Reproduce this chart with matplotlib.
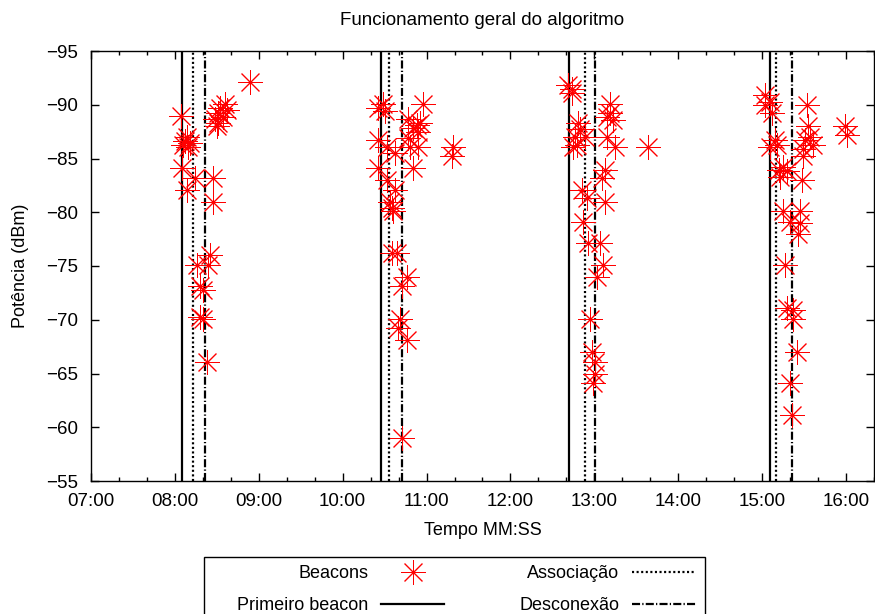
import matplotlib
matplotlib.use("Agg")
import matplotlib.pyplot as plt
from matplotlib.ticker import MultipleLocator, FuncFormatter
from matplotlib.lines import Line2D
from matplotlib.patches import Rectangle

plt.rcParams['font.family'] = ['Liberation Sans', 'DejaVu Sans']
plt.rcParams['lines.scale_dashes'] = False

# Beacon times (seconds, MM*60+SS) and received power (dBm)
beacon_time = [
    # cluster 1
    533.7, 515.9, 512.3, 517.0, 511.0, 514.6, 508.7, 511.0, 510.0, 484.4,
    488.4, 487.2, 490.8, 489.6, 486.0, 484.9, 494.4, 507.5, 488.4, 507.5,
    505.1, 495.6, 503.9, 498.0, 500.3, 500.3, 498.0, 502.8,
    # cluster 2
    657.7, 629.1, 630.3, 625.5, 647.0, 653.0, 655.3, 650.5, 654.1, 631.5,
    625.5, 647.0, 654.1, 648.2, 637.5, 679.2, 678.0, 625.5, 650.5, 631.5,
    637.5, 633.9, 635.1, 636.2, 638.7, 635.1, 645.8, 642.2, 641.0, 639.8,
    645.8, 642.2,
    # cluster 3
    763.8, 761.4, 763.8, 791.3, 791.3, 793.6, 788.9, 768.6, 769.8, 773.4,
    766.2, 767.4, 765.0, 788.9, 794.8, 818.7, 787.7, 785.3, 771.0, 774.5,
    787.7, 772.2, 775.7, 784.1, 786.5, 781.7, 777.0, 778.1, 780.5, 780.5,
    779.3,
    # cluster 4
    902.1, 905.7, 902.1, 906.9, 932.0, 959.3, 960.5, 933.1, 934.3, 930.7,
    936.7, 929.5, 929.5, 909.3, 910.5, 905.7, 915.2, 911.7, 917.6, 912.9,
    928.3, 915.2, 927.2, 920.0, 927.2, 926.0, 916.4, 917.6, 922.4, 922.4,
    924.8, 920.0, 921.2,
]
beacon_power = [
    # cluster 1
    -92.1, -90.1, -89.7, -89.5, -89.2, -88.9, -88.7, -88.3, -88.0, -89.0,
    -87.0, -86.6, -86.4, -86.1, -86.3, -84.1, -83.2, -83.2, -82.1, -81.0,
    -76.0, -75.1, -75.1, -73.1, -72.8, -70.1, -70.3, -66.1,
    # cluster 2
    -90.1, -90.1, -89.4, -89.7, -88.7, -88.1, -88.3, -87.8, -87.5, -86.1,
    -86.7, -86.9, -86.1, -86.1, -85.5, -86.1, -85.2, -84.1, -84.1, -83.0,
    -82.1, -81.0, -80.4, -80.1, -76.2, -76.2, -74.0, -73.1, -70.1, -69.2,
    -68.1, -59.0,
    # cluster 3
    -91.5, -91.8, -91.1, -90.1, -89.2, -88.6, -88.9, -88.3, -87.7, -87.0,
    -87.0, -86.3, -86.1, -87.0, -86.1, -86.1, -83.9, -83.2, -82.1, -81.3,
    -81.0, -79.1, -77.1, -77.1, -75.1, -74.0, -70.1, -67.0, -66.1, -65.0,
    -64.1,
    # cluster 4
    -90.9, -90.3, -90.0, -89.2, -90.0, -88.0, -87.2, -88.0, -87.0, -86.7,
    -86.3, -85.9, -85.2, -86.7, -86.3, -86.1, -84.2, -83.9, -83.8, -83.3,
    -83.0, -80.1, -80.1, -79.1, -79.0, -78.0, -75.1, -71.1, -70.9, -70.1,
    -67.0, -64.1, -61.1,
]

# Event times (seconds)
first_beacon = [484.9, 627.2, 762.1, 905.7]
association = [493.0, 633.4, 773.4, 910.0]
disconnection = [501.8, 642.2, 780.5, 921.6]

labels = ["Beacons", "Primeiro beacon", "Associação", "Desconexão"]
title = "Funcionamento geral do algoritmo"
xlabel = "Tempo MM:SS"
ylabel = "Potência (dBm)"

fig = plt.figure(figsize=(8.75, 6.14), dpi=100)
ax = fig.add_axes([91/875, 1 - 481/614, (874 - 91)/875, (481 - 51)/614])

FS = 13
star = (8, 2, 0)
dot_style = (0, (1.5, 1.8))
dashdot_style = (0, (5.8, 1.6, 0.9, 1.6))

ax.plot(beacon_time, beacon_power, linestyle='none', marker=star,
        markersize=18, markeredgewidth=0.7, color='red', zorder=3)
for t in first_beacon:
    ax.axvline(t, color='black', lw=1.6, zorder=2)
for t in association:
    ax.axvline(t, color='black', lw=1.6, linestyle=dot_style, zorder=2)
for t in disconnection:
    ax.axvline(t, color='black', lw=1.6, linestyle=dashdot_style, zorder=2)

ax.set_xlim(420, 980)
ax.set_ylim(-55, -95)
ax.xaxis.set_major_locator(MultipleLocator(60))
ax.xaxis.set_minor_locator(MultipleLocator(20))
ax.yaxis.set_major_locator(MultipleLocator(5))
ax.xaxis.set_major_formatter(FuncFormatter(lambda v, p: f"{int(v)//60:02d}:{int(v)%60:02d}"))
ax.tick_params(which='both', direction='in', top=True, right=True, labelsize=13.5)
ax.tick_params(which='major', length=6, width=1)
ax.tick_params(axis='x', which='major', pad=9)
ax.tick_params(axis='y', which='major', pad=9.5)
ax.tick_params(which='minor', length=3, width=1)
for s in ax.spines.values():
    s.set_linewidth(1)

ax.set_title(title, fontsize=13.5, pad=19)
ax.set_xlabel(xlabel, fontsize=FS, labelpad=8)
ax.set_ylabel(ylabel, fontsize=FS, labelpad=12)

handles = [
    Line2D([], [], linestyle='none', marker=star, markersize=18, markeredgewidth=0.7, color='red'),
    Line2D([], [], color='black', lw=1.6),
    Line2D([], [], color='black', lw=1.6, linestyle=dot_style),
    Line2D([], [], color='black', lw=1.6, linestyle=dashdot_style),
]
fig.legend(handles, labels, ncol=2, markerfirst=False, frameon=False,
           loc='upper left', bbox_to_anchor=(237/875, 1 - 565/614),
           borderpad=0, borderaxespad=0, fontsize=FS, handlelength=3.5,
           handletextpad=0.72, columnspacing=4.15, labelspacing=0.85)
fig.patches.append(Rectangle((204/875, -0.05), (705 - 204)/875, 0.05 + (614 - 557)/614,
                             transform=fig.transFigure, fill=False, edgecolor='black', lw=1))

fig.savefig("out.png", dpi=100)
